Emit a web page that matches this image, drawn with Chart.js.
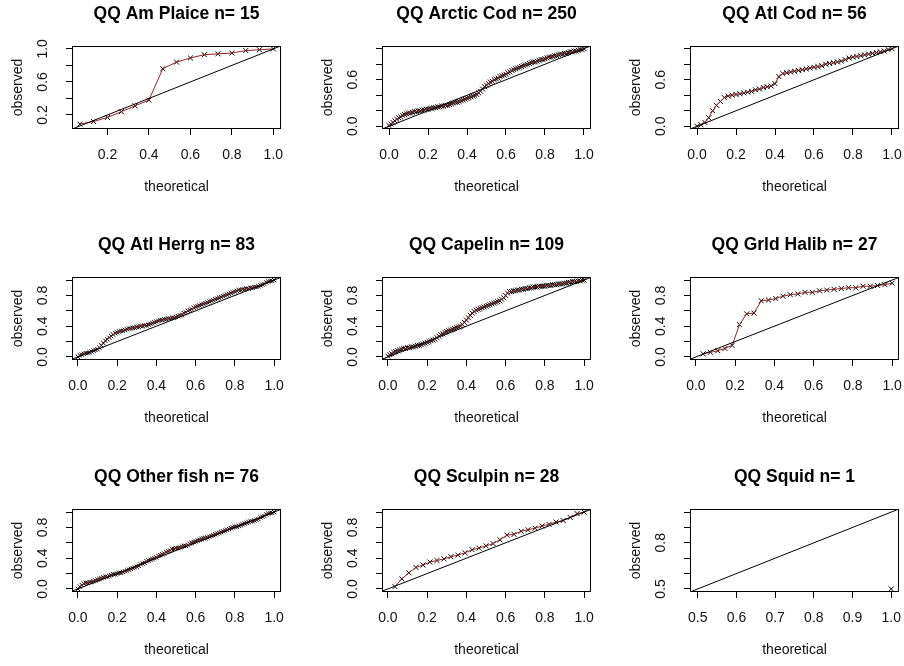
<!DOCTYPE html>
<html>
<head>
<meta charset="utf-8">
<title>QQ plots</title>
<script src="https://cdn.jsdelivr.net/npm/chart.js@4.4.1/dist/chart.umd.min.js"></script>
<style>
  body { margin: 0; background: #fff; width: 904px; height: 666px; overflow: hidden; position: relative; }
  canvas { position: absolute; }
</style>
</head>
<body>
<canvas id="c0" width="286" height="203" style="left:0;top:0"></canvas>
<canvas id="c1" width="286" height="203" style="left:310px;top:0"></canvas>
<canvas id="c2" width="286" height="203" style="left:618px;top:0"></canvas>
<canvas id="c3" width="286" height="203" style="left:0;top:231px"></canvas>
<canvas id="c4" width="286" height="203" style="left:310px;top:231px"></canvas>
<canvas id="c5" width="286" height="203" style="left:618px;top:231px"></canvas>
<canvas id="c6" width="286" height="203" style="left:0;top:463px"></canvas>
<canvas id="c7" width="286" height="203" style="left:310px;top:463px"></canvas>
<canvas id="c8" width="286" height="203" style="left:618px;top:463px"></canvas>
<script>
// theoretical quantiles (x) for the big samples, step 0.01
const qFine = [0.00,0.01,0.02,0.03,0.04,0.05,0.06,0.07,0.08,0.09,0.10,0.11,0.12,0.13,0.14,0.15,0.16,0.17,0.18,0.19,
               0.20,0.21,0.22,0.23,0.24,0.25,0.26,0.27,0.28,0.29,0.30,0.31,0.32,0.33,0.34,0.35,0.36,0.37,0.38,0.39,
               0.40,0.41,0.42,0.43,0.44,0.45,0.46,0.47,0.48,0.49,0.50,0.51,0.52,0.53,0.54,0.55,0.56,0.57,0.58,0.59,
               0.60,0.61,0.62,0.63,0.64,0.65,0.66,0.67,0.68,0.69,0.70,0.71,0.72,0.73,0.74,0.75,0.76,0.77,0.78,0.79,
               0.80,0.81,0.82,0.83,0.84,0.85,0.86,0.87,0.88,0.89,0.90,0.91,0.92,0.93,0.94,0.95,0.96,0.97,0.98,0.99,1.00];
// step 0.02 for Atl Cod
const qDense = [0.00,0.02,0.04,0.06,0.08,0.10,0.12,0.14,0.16,0.18,0.20,0.22,0.24,0.26,0.28,0.30,0.32,0.34,0.36,0.38,0.40,
                0.42,0.44,0.46,0.48,0.50,0.52,0.54,0.56,0.58,0.60,0.62,0.64,0.66,0.68,0.70,0.72,0.74,0.76,0.78,0.80,
                0.82,0.84,0.86,0.88,0.90,0.92,0.94,0.96,0.98,1.00];

// Am Plaice n=15
const qPlaice = [0.067,0.133,0.200,0.267,0.333,0.400,0.467,0.533,0.600,0.667,0.733,0.800,0.867,0.933,1.000];
const obsPlaice = [0.09,0.12,0.17,0.24,0.31,0.38,0.76,0.84,0.89,0.93,0.94,0.95,0.98,0.99,1.00];

// Arctic Cod n=250
const obsArcticCod = [0.01,0.03,0.05,0.07,0.09,0.11,0.12,0.14,0.15,0.16,0.17,0.17,0.18,0.19,0.19,0.20,0.20,0.21,0.21,0.22,
                      0.22,0.23,0.23,0.24,0.24,0.25,0.25,0.26,0.26,0.27,0.27,0.28,0.29,0.30,0.31,0.31,0.32,0.33,0.34,0.35,
                      0.36,0.37,0.38,0.39,0.40,0.41,0.43,0.45,0.48,0.51,0.53,0.55,0.57,0.58,0.60,0.61,0.62,0.64,0.65,0.66,
                      0.67,0.69,0.70,0.72,0.73,0.74,0.75,0.76,0.77,0.78,0.79,0.80,0.81,0.82,0.83,0.83,0.84,0.85,0.86,0.86,
                      0.87,0.88,0.89,0.89,0.90,0.91,0.91,0.92,0.93,0.93,0.94,0.94,0.95,0.96,0.96,0.97,0.97,0.98,0.99,0.99,1.00];

// Atl Cod n=56
const obsAtlCod = [0.00,0.02,0.05,0.11,0.20,0.27,0.32,0.37,0.39,0.40,0.41,0.42,0.43,0.44,0.45,0.47,0.48,0.50,0.51,0.52,0.55,
                   0.64,0.68,0.69,0.70,0.71,0.72,0.73,0.74,0.75,0.76,0.77,0.78,0.80,0.81,0.82,0.83,0.84,0.86,0.88,0.89,
                   0.90,0.91,0.92,0.93,0.94,0.95,0.96,0.97,0.99,1.00];

// Atl Herrg n=83
const obsAtlHerrg = [0.00,0.02,0.03,0.04,0.05,0.05,0.06,0.07,0.08,0.09,0.10,0.12,0.15,0.18,0.21,0.23,0.25,0.27,0.29,0.31,
                     0.32,0.33,0.34,0.34,0.35,0.36,0.37,0.37,0.38,0.38,0.39,0.39,0.40,0.40,0.41,0.41,0.42,0.43,0.44,0.45,
                     0.46,0.47,0.48,0.48,0.49,0.49,0.50,0.50,0.51,0.51,0.52,0.53,0.54,0.55,0.57,0.58,0.60,0.61,0.62,0.64,
                     0.65,0.66,0.67,0.68,0.69,0.70,0.71,0.72,0.73,0.74,0.75,0.76,0.77,0.78,0.79,0.80,0.81,0.82,0.83,0.84,
                     0.85,0.86,0.87,0.87,0.88,0.88,0.89,0.89,0.90,0.90,0.91,0.91,0.92,0.93,0.94,0.95,0.97,0.98,0.99,0.99,1.00];

// Capelin n=109
const obsCapelin = [0.01,0.03,0.04,0.06,0.07,0.08,0.09,0.10,0.11,0.11,0.12,0.12,0.13,0.13,0.14,0.15,0.15,0.16,0.17,0.18,
                    0.19,0.20,0.21,0.22,0.23,0.25,0.27,0.29,0.30,0.32,0.33,0.34,0.35,0.36,0.37,0.38,0.39,0.40,0.42,0.45,
                    0.48,0.51,0.54,0.57,0.59,0.61,0.62,0.63,0.64,0.65,0.66,0.67,0.68,0.69,0.70,0.71,0.72,0.73,0.75,0.77,
                    0.80,0.83,0.85,0.85,0.86,0.86,0.87,0.87,0.88,0.88,0.89,0.89,0.90,0.90,0.91,0.91,0.91,0.92,0.92,0.92,
                    0.92,0.93,0.93,0.93,0.94,0.94,0.94,0.95,0.95,0.95,0.96,0.96,0.97,0.97,0.98,0.98,0.98,0.99,0.99,1.00,1.00];

// Grld Halib n=27
const qHalib = [0.037,0.074,0.111,0.148,0.185,0.222,0.259,0.296,0.333,0.370,0.407,0.444,0.481,0.519,
                0.556,0.593,0.630,0.667,0.704,0.741,0.778,0.815,0.852,0.889,0.926,0.963,1.000];
const obsHalib = [0.04,0.06,0.08,0.11,0.15,0.42,0.56,0.57,0.73,0.74,0.76,0.79,0.81,0.82,
                  0.84,0.84,0.86,0.87,0.88,0.89,0.90,0.90,0.92,0.92,0.93,0.94,0.96];

// Other fish n=76
const obsOther = [0.00,0.03,0.05,0.07,0.08,0.08,0.09,0.09,0.10,0.11,0.12,0.13,0.14,0.15,0.16,0.16,0.17,0.18,0.19,0.19,
                  0.20,0.21,0.21,0.22,0.23,0.24,0.25,0.26,0.27,0.28,0.29,0.30,0.32,0.33,0.34,0.36,0.37,0.38,0.39,0.40,
                  0.41,0.43,0.44,0.45,0.46,0.48,0.49,0.50,0.52,0.52,0.53,0.53,0.54,0.55,0.56,0.56,0.57,0.59,0.60,0.61,
                  0.62,0.63,0.64,0.65,0.66,0.66,0.67,0.68,0.69,0.70,0.71,0.72,0.73,0.74,0.75,0.76,0.77,0.78,0.79,0.80,
                  0.81,0.81,0.82,0.83,0.84,0.85,0.86,0.87,0.88,0.88,0.89,0.90,0.91,0.93,0.94,0.95,0.97,0.98,0.99,0.99,1.00];

// Sculpin n=28
const qSculpin = [0.036,0.071,0.107,0.143,0.179,0.214,0.250,0.286,0.321,0.357,0.393,0.429,0.464,0.500,
                  0.536,0.571,0.607,0.643,0.679,0.714,0.750,0.786,0.821,0.857,0.893,0.929,0.964,1.000];
const obsSculpin = [0.03,0.13,0.21,0.28,0.31,0.35,0.37,0.39,0.42,0.44,0.47,0.51,0.53,0.56,
                    0.59,0.64,0.70,0.71,0.75,0.77,0.79,0.82,0.84,0.87,0.89,0.93,0.98,1.00];

// Squid n=1
const qSquid = [1.0];
const obsSquid = [0.5];

// axis ticks and which of them get a label
const ticksFull = [0.0,0.2,0.4,0.6,0.8,1.0];
const ticksFrom02 = [0.2,0.4,0.6,0.8,1.0];
const ticksSquid = [0.5,0.6,0.7,0.8,0.9,1.0];
const labA = [0.2,0.6,1.0];
const labB = [0.0,0.6];
const labC = [0.0,0.4,0.8];
const labD = [0.5,0.8];

const lineRed = 'rgb(150,35,35)';
const ink = '#111';
const fam = '"Liberation Sans", Arial, Helvetica, sans-serif';

// box around the plot region, like R's bty="o"
const frame = {
  id: 'frame',
  afterDatasetsDraw(chart) {
    const {ctx, chartArea: a} = chart;
    ctx.save();
    ctx.strokeStyle = '#000';
    ctx.lineWidth = 1;
    ctx.strokeRect(Math.round(a.left) + 0.5, Math.round(a.top) + 0.5,
                   Math.round(a.right - a.left) - 1, Math.round(a.bottom - a.top) - 1);
    ctx.restore();
  }
};

let makeChart = (id, title, theo, obs, xr, yr, xt, yt, yLab, rad) => {
  const pts = theo.map((t, i) => ({x: t, y: obs[i]}));
  const lo = Math.min(xr[0], yr[0]);
  const hi = Math.max(xr[1], yr[1]);
  new Chart(document.getElementById(id), {
    type: 'scatter',
    data: {
      // index 0 is drawn last: abline on top, then the red line, points underneath
      datasets: [
        { data: [{x: lo, y: lo}, {x: hi, y: hi}], showLine: true, borderColor: '#000', borderWidth: 1, pointRadius: 0 },
        { data: pts, showLine: true, borderColor: lineRed, borderWidth: 1, pointRadius: 0 },
        { data: pts, showLine: false, pointStyle: 'crossRot', pointRadius: rad, pointBorderColor: '#000',
          pointBorderWidth: 1, pointBackgroundColor: 'rgba(0,0,0,0)' }
      ]
    },
    options: {
      responsive: false,
      animation: false,
      events: [],
      devicePixelRatio: 1,
      layout: { autoPadding: false, padding: { left: 0, right: 5, top: 0, bottom: 0 } },
      plugins: {
        legend: { display: false },
        tooltip: { enabled: false },
        title: {
          display: true, text: title, fullSize: false, color: '#000',
          font: { family: fam, size: 17.5, weight: 'bold' },
          padding: { top: 3.5, bottom: 21.5 }
        }
      },
      scales: {
        x: {
          type: 'linear', min: xr[0], max: xr[1],
          afterBuildTicks: s => { s.ticks = xt.map(v => ({value: v})); },
          afterFit: s => { s.height = 74; s.paddingLeft = 0; s.paddingRight = 0; },
          grid: { display: true, drawOnChartArea: false, drawTicks: true, tickLength: 6, color: '#000' },
          border: { display: false },
          ticks: { autoSkip: false, maxRotation: 0, padding: 11.6, color: ink,
                   font: { family: fam, size: 14 }, callback: v => v.toFixed(1) },
          title: { display: true, text: 'theoretical', color: ink, font: { family: fam, size: 14 },
                   padding: { top: 0, bottom: 7.6 } }
        },
        y: {
          type: 'linear', min: yr[0], max: yr[1],
          afterBuildTicks: s => { s.ticks = yt.map(v => ({value: v})); },
          afterFit: s => { s.width = 72; s.paddingTop = 0; s.paddingBottom = 0; },
          grid: { display: true, drawOnChartArea: false, drawTicks: true, tickLength: 6, color: '#000' },
          border: { display: false },
          ticks: { autoSkip: false, minRotation: 90, maxRotation: 90, crossAlign: 'center', padding: 13,
                   color: ink, font: { family: fam, size: 14 },
                   callback: v => yLab.includes(v) ? v.toFixed(1) : '' },
          title: { display: true, text: 'observed', color: ink, font: { family: fam, size: 14 },
                   padding: { top: 10, bottom: 0 } }
        }
      }
    },
    plugins: [frame]
  });
};

makeChart('c0', 'QQ Am Plaice n= 15', qPlaice, obsPlaice, [0.029, 1.037], [0.03, 1.035], ticksFrom02, ticksFrom02, labA, 3.5);
makeChart('c1', 'QQ Arctic Cod n= 250', qFine, obsArcticCod, [-0.036, 1.036], [-0.035, 1.035], ticksFull, ticksFull, labB, 3.5);
makeChart('c2', 'QQ Atl Cod n= 56', qDense, obsAtlCod, [-0.036, 1.036], [-0.035, 1.035], ticksFull, ticksFull, labB, 3.5);
makeChart('c3', 'QQ Atl Herrg n= 83', qFine, obsAtlHerrg, [-0.03, 1.035], [-0.04, 1.04], ticksFull, ticksFull, labC, 3);
makeChart('c4', 'QQ Capelin n= 109', qFine, obsCapelin, [-0.03, 1.035], [-0.04, 1.04], ticksFull, ticksFull, labC, 3.5);
makeChart('c5', 'QQ Grld Halib n= 27', qHalib, obsHalib, [-0.03, 1.035], [-0.04, 1.04], ticksFull, ticksFull, labC, 3.5);
makeChart('c6', 'QQ Other fish n= 76', qFine, obsOther, [-0.03, 1.035], [-0.04, 1.04], ticksFull, ticksFull, labC, 3);
makeChart('c7', 'QQ Sculpin n= 28', qSculpin, obsSculpin, [-0.03, 1.035], [-0.04, 1.04], ticksFull, ticksFull, labC, 3.5);
makeChart('c8', 'QQ Squid n= 1', qSquid, obsSquid, [0.48, 1.02], [0.48, 1.02], ticksSquid, ticksSquid, labD, 3.5);
</script>
</body>
</html>
